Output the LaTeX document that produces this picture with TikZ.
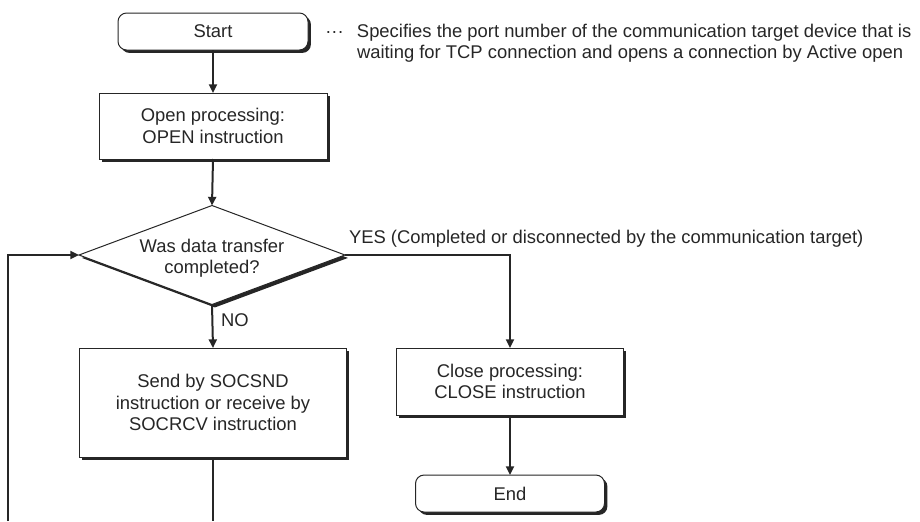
\documentclass[tikz,border=0pt]{standalone}
\usepackage{fontspec}
\setmainfont{Liberation Sans}
\usetikzlibrary{arrows.meta,shapes.geometric,shadows}

\begin{document}
\begin{tikzpicture}[x=0.75pt,y=-0.75pt,
  font=\fontsize{13.8}{16}\selectfont, text=black!85,
  plain/.style={inner sep=0pt,outer sep=0pt},
  box/.style={draw=black!85,line width=0.75pt,fill=white,align=center,inner sep=2pt,outer sep=0pt,
    drop shadow={shadow xshift=2.2pt,shadow yshift=-2.2pt,fill=black!85,opacity=1}},
  terminal/.style={box,rounded corners=6.5pt},
  decision/.style={box,diamond,inner sep=0pt},
  wire/.style={line width=1.5pt,draw=black!85},
  flow/.style={wire,-{Triangle[length=6.5pt,width=6pt]}}]
  \useasboundingbox (0,0) rectangle (920,521);
  % terminals and steps
  \node[terminal,minimum width=142.5pt,minimum height=27.75pt] (start) at (213,31.5) {Start};
  \node[plain,anchor=west,align=left] (note) at (357,43)
    {\llap{···\hspace{10pt}}Specifies the port number of the communication target device that is\\
     waiting for TCP connection and opens a connection by Active open};
  \node[box,minimum width=171pt,minimum height=49.5pt] (open) at (213,126) {Open processing:\\OPEN instruction};
  \node[decision,minimum width=199.5pt,minimum height=74.25pt] (check) at (212,255) {};
  \node[plain,align=center] (ask) at (212,258) {Was data transfer\\completed?};
  \node[box,minimum width=200.25pt,minimum height=81.75pt] (send) at (213,402.5)
    {Send by SOCSND\\instruction or receive by\\SOCRCV instruction};
  \node[box,minimum width=170.25pt,minimum height=50.25pt] (close) at (510,381.5) {Close processing:\\CLOSE instruction};
  \node[terminal,minimum width=141.75pt,minimum height=27.75pt] (stop) at (510,493.5) {End};
  \node[plain,anchor=west] (yes) at ([shift={(4,-16)}]check.east)
    {YES (Completed or disconnected by the communication target)};
  % connectors
  \draw[flow] (start.south) -- (open.north);
  \draw[flow] (open.south) -- (check.north);
  \draw[flow] (check.south) -- node[plain,pos=0.35,anchor=west,xshift=6.5pt] (no) {NO} (send.north);
  \draw[flow] (check.east) -| (close.north);
  \draw[flow] (close.south) -- (stop.north);
  % loop back (continues below)
  \coordinate (sendout) at (send.south |- 0,521);
  \coordinate (loopin) at (8,521);
  \draw[wire] (send.south) -- (sendout);
  \draw[flow] (loopin) |- (check.west);
\end{tikzpicture}
\end{document}
